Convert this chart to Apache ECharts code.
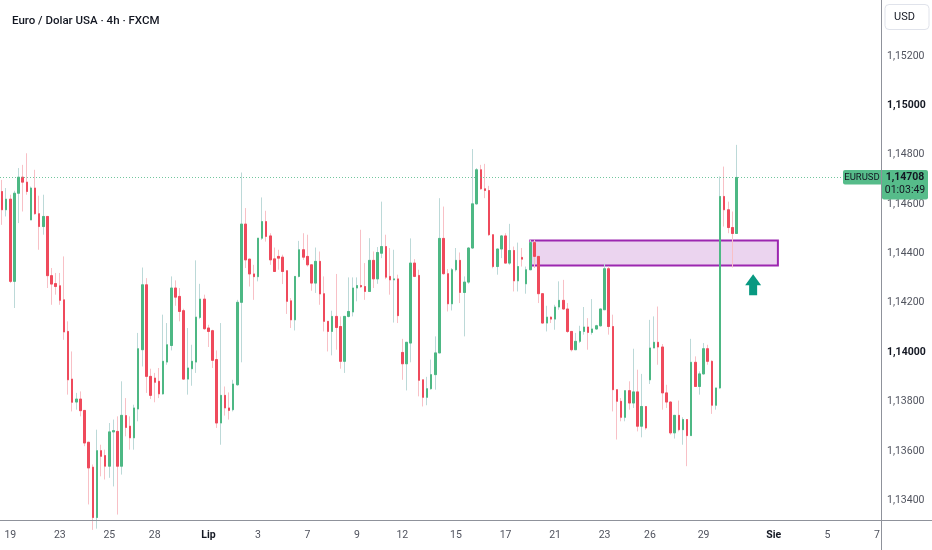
<!DOCTYPE html>
<html>
<head>
<meta charset="utf-8">
<script src="https://cdn.jsdelivr.net/npm/echarts@6/dist/echarts.min.js"></script>
<style>
html,body{margin:0;padding:0;background:#fff;}
#c{width:932px;height:550px;}
</style>
</head>
<body>
<div id="c"></div>
<script>
// ---- data (EUR/USD 4h) ----
const opens = [
1.14651,1.14577,1.14620,1.14287,1.14644,1.14709,1.14689,1.14536,1.14665,1.14561,
1.14509,1.14550,1.14310,1.14278,1.14269,1.14212,1.14084,1.13891,1.13798,1.13810,
1.13764,1.13635,1.13534,1.13330,1.13601,1.13581,1.13538,1.13677,1.13679,1.13538,
1.13743,1.13700,1.13653,1.13770,1.14010,1.14273,1.13902,1.13895,1.13882,1.13831,
1.13960,1.14027,1.14260,1.14226,1.14168,1.13891,1.13933,1.13960,1.14141,1.14215,
1.14098,1.14087,1.13970,1.13713,1.13825,1.13774,1.13767,1.13868,1.14202,1.14519,
1.14377,1.14317,1.14306,1.14462,1.14529,1.14471,1.14378,1.14388,1.14385,1.14330,
1.14208,1.14131,1.14307,1.14415,1.14388,1.14354,1.14280,1.14368,1.14237,1.14125,
1.14084,1.14145,1.14104,1.13963,1.14145,1.14163,1.14260,1.14270,1.14266,1.14246,
1.14372,1.14297,1.14401,1.14428,1.14307,1.14293,1.14297,1.13999,1.13953,1.14037,
1.14361,1.14311,1.13888,1.13817,1.13852,1.13909,1.13997,1.14461,1.14318,1.14196,
1.14334,1.14372,1.14242,1.14284,1.14422,1.14601,1.14739,1.14662,1.14655,1.14476,
1.14347,1.14418,1.14471,1.14361,1.14412,1.14289,1.14384,1.14277,1.14334,1.14444,
1.14388,1.14237,1.14118,1.14142,1.14134,1.14183,1.14210,1.14175,1.14084,1.14010,
1.14044,1.14084,1.14102,1.14080,1.14094,1.14107,1.14172,1.14338,1.14104,1.13848,
1.13801,1.13736,1.13844,1.13794,1.13839,1.13700,1.13780,1.13888,1.14017,1.14040,
1.14021,1.13835,1.13798,1.13673,1.13744,1.13686,1.13727,1.13662,1.13959,1.13861,
1.13912,1.14014,1.13963,1.13785,1.13855,1.14631,1.14577,1.14505,1.14481
];
const closes = [
1.14577,1.14620,1.14287,1.14644,1.14709,1.14689,1.14651,1.14665,1.14561,1.14509,
1.14550,1.14310,1.14276,1.14266,1.14210,1.14082,1.13888,1.13797,1.13810,1.13763,
1.13632,1.13531,1.13330,1.13601,1.13578,1.13538,1.13677,1.13682,1.13538,1.13744,
1.13695,1.13653,1.13774,1.14014,1.14273,1.13902,1.13825,1.13878,1.13831,1.13963,
1.14030,1.14260,1.14223,1.14165,1.13891,1.13936,1.13963,1.14142,1.14215,1.14095,
1.14084,1.13967,1.13713,1.13825,1.13774,1.13764,1.13871,1.14202,1.14519,1.14374,
1.14317,1.14306,1.14462,1.14529,1.14469,1.14374,1.14327,1.14381,1.14327,1.14206,
1.14131,1.14307,1.14415,1.14385,1.14354,1.14280,1.14368,1.14236,1.14125,1.14084,
1.14145,1.14100,1.13963,1.14145,1.14165,1.14260,1.14270,1.14265,1.14246,1.14372,
1.14297,1.14404,1.14428,1.14304,1.14293,1.14297,1.14148,1.13953,1.14040,1.14361,
1.14307,1.13886,1.13817,1.13852,1.13909,1.13997,1.14461,1.14318,1.14196,1.14334,
1.14372,1.14242,1.14284,1.14422,1.14601,1.14739,1.14662,1.14655,1.14476,1.14347,
1.14418,1.14471,1.14361,1.14412,1.14289,1.14347,1.14377,1.14334,1.14444,1.14388,
1.14237,1.14118,1.14142,1.14134,1.14183,1.14210,1.14175,1.14084,1.14010,1.14044,
1.14084,1.14102,1.14080,1.14094,1.14107,1.14175,1.14338,1.14104,1.13848,1.13801,
1.13736,1.13844,1.13794,1.13839,1.13700,1.13780,1.13693,1.14017,1.14040,1.14021,
1.13835,1.13798,1.13673,1.13744,1.13686,1.13727,1.13662,1.13959,1.13861,1.13912,
1.14014,1.13963,1.13785,1.13855,1.14631,1.14577,1.14505,1.14481,1.14708
];
const highs = [
1.14698,1.14665,1.14638,1.14654,1.14746,1.14759,1.14806,1.14671,1.14739,1.14634,
1.14638,1.14550,1.14341,1.14321,1.14321,1.14388,1.14125,1.14003,1.13835,1.13841,
1.13764,1.13635,1.13545,1.13686,1.13625,1.13605,1.13713,1.13727,1.13740,1.13882,
1.13814,1.13740,1.13787,1.14078,1.14343,1.14300,1.13933,1.13916,1.13936,1.14152,
1.14118,1.14307,1.14291,1.14260,1.14176,1.14098,1.14030,1.14372,1.14277,1.14233,
1.14111,1.14091,1.14007,1.14118,1.13861,1.13837,1.13888,1.14212,1.14728,1.14584,
1.14377,1.14354,1.14462,1.14627,1.14573,1.14482,1.14424,1.14415,1.14395,1.14330,
1.14219,1.14307,1.14451,1.14482,1.14476,1.14354,1.14424,1.14408,1.14307,1.14125,
1.14168,1.14317,1.14145,1.14145,1.14303,1.14303,1.14303,1.14496,1.14361,1.14462,
1.14408,1.14426,1.14610,1.14476,1.14422,1.14415,1.14314,1.14054,1.14040,1.14461,
1.14377,1.14334,1.13888,1.13900,1.13970,1.14064,1.14624,1.14590,1.14337,1.14341,
1.14422,1.14404,1.14307,1.14426,1.14823,1.14746,1.14759,1.14763,1.14674,1.14476,
1.14418,1.14475,1.14482,1.14520,1.14428,1.14444,1.14422,1.14347,1.14455,1.14455,
1.14388,1.14237,1.14188,1.14145,1.14192,1.14287,1.14293,1.14199,1.14084,1.14078,
1.14107,1.14183,1.14138,1.14215,1.14111,1.14175,1.14358,1.14347,1.14152,1.13848,
1.13814,1.13844,1.13882,1.14014,1.13929,1.13912,1.13780,1.14131,1.14145,1.14185,
1.14033,1.13868,1.13800,1.13744,1.13804,1.13736,1.13727,1.14054,1.13983,1.13922,
1.14037,1.14030,1.13967,1.13855,1.14712,1.14752,1.14610,1.14570,1.14840
];
const lows = [
1.14516,1.14550,1.14280,1.14179,1.14523,1.14570,1.14638,1.14536,1.14557,1.14415,
1.14476,1.14260,1.14192,1.14233,1.14192,1.14050,1.13828,1.13760,1.13767,1.13740,
1.13619,1.13383,1.13280,1.13285,1.13497,1.13484,1.13491,1.13456,1.13342,1.13504,
1.13659,1.13605,1.13605,1.13720,1.13942,1.13835,1.13810,1.13797,1.13814,1.13828,
1.13949,1.14007,1.14188,1.14125,1.13888,1.13828,1.13864,1.13916,1.14134,1.14091,
1.14021,1.13936,1.13693,1.13625,1.13743,1.13727,1.13760,1.13864,1.13959,1.14341,
1.14266,1.14212,1.14287,1.14455,1.14448,1.14354,1.14325,1.14334,1.14276,1.14155,
1.14098,1.14088,1.14303,1.14374,1.14347,1.14249,1.14240,1.14192,1.14084,1.14003,
1.13987,1.14010,1.13933,1.13916,1.14141,1.14145,1.14206,1.14260,1.14212,1.14244,
1.14260,1.14277,1.14381,1.14296,1.14233,1.14120,1.14118,1.13888,1.13845,1.13959,
1.14304,1.13821,1.13780,1.13785,1.13848,1.13848,1.13997,1.14314,1.14165,1.14169,
1.14327,1.14199,1.14064,1.14277,1.14419,1.14598,1.14658,1.14624,1.14471,1.14340,
1.14314,1.14381,1.14361,1.14354,1.14246,1.14246,1.14347,1.14237,1.14334,1.14341,
1.14199,1.14118,1.14084,1.14118,1.14091,1.14172,1.14172,1.14078,1.14003,1.14010,
1.14037,1.14071,1.14010,1.14071,1.14091,1.14104,1.14172,1.14071,1.13760,1.13646,
1.13720,1.13720,1.13767,1.13774,1.13679,1.13655,1.13686,1.13871,1.14017,1.13949,
1.13767,1.13774,1.13666,1.13650,1.13679,1.13625,1.13538,1.13662,1.13861,1.13828,
1.13909,1.13949,1.13750,1.13767,1.13852,1.14509,1.14482,1.14343,1.14481
];
// time axis: slot count and date labels at slot indices
const slotCount = 213;
const tickLabels = ['19','23','25','28','Lip','3','7','9','12','15','17','21','23','26','29','Sie','5','7'];
const tickSlots  = [2,14,26,37,50,62,74,86,97,110,122,134,146,157,170,187,200,212];
const monthLabels = ['Lip','Sie'];
// price axis
const priceMin = 1.1332, priceMax = 1.15427, priceStep = 0.002, priceLabelMax = 1.1525;
const boldPrices = [1.14, 1.15];
// drawings
const zoneTop = 1.14453, zoneBottom = 1.14351, zoneStart = 128, zoneEnd = 188;
const arrowSlot = 182, arrowPrice = 1.14273;
const symbolName = 'EURUSD', countdown = '01:03:49', currency = 'USD';
const titleText = 'Euro / Dolar USA · 4h · FXCM';

// ---- build ----
const UP = '#4db884', DOWN = '#ef4a5c';
const UP_WICK = '#bcd9d8', DOWN_WICK = '#f8c0c6';
const FONT = 'Roboto, "Open Sans", sans-serif';
const categories = Array.from({length: slotCount}, (_, i) => String(i));
const tickMap = {};
tickSlots.forEach((s, i) => { tickMap[s] = tickLabels[i]; });

const fullData = opens.map((o, i) => [o, closes[i], lows[i], highs[i]]);
const bodyData = opens.map((o, i) => [o, closes[i], Math.min(o, closes[i]), Math.max(o, closes[i])]);
const last = closes.length - 1;
const lastClose = closes[last];
const fmtPrice = v => v.toFixed(5).replace('.', ',');

const chart = echarts.init(document.getElementById('c'), null, {renderer: 'canvas'});
chart.setOption({
  animation: false,
  backgroundColor: '#ffffff',
  title: {
    text: titleText, left: 7, top: 10,
    textStyle: {fontFamily: FONT, fontSize: 11.5, fontWeight: 500, color: '#131722'}
  },
  grid: {left: -1, top: 0, right: 53, bottom: 30, containLabel: false},
  xAxis: {
    type: 'category', data: categories, boundaryGap: true,
    axisLine: {show: false}, axisTick: {show: false}, splitLine: {show: false},
    axisLabel: {
      interval: i => tickMap[i] !== undefined,
      margin: 10,
      formatter: (v, i) => {
        const t = tickMap[i];
        if (t === undefined) return '';
        return monthLabels.includes(t) ? '{b|' + t + '}' : t;
      },
      color: '#50535e', fontFamily: FONT, fontSize: 10.5,
      rich: {b: {fontWeight: 'bold', color: '#131722', fontFamily: FONT, fontSize: 10.5}}
    }
  },
  yAxis: {
    type: 'value', position: 'right', scale: true,
    min: priceMin, max: priceMax, interval: 0.0004,
    axisLine: {show: false}, axisTick: {show: false}, splitLine: {show: false},
    axisLabel: {
      margin: 8, showMinLabel: true, showMaxLabel: false,
      color: '#50535e', fontFamily: FONT, fontSize: 10.5,
      formatter: v => {
        const k = Math.round(v / priceStep);
        if (Math.abs(k * priceStep - v) > 1e-7 || v > priceLabelMax) return '';
        const val = k * priceStep;
        const s = fmtPrice(val);
        return boldPrices.some(b => Math.abs(b - val) < 1e-7) ? '{b|' + s + '}' : s;
      },
      rich: {b: {fontWeight: 'bold', color: '#131722', fontFamily: FONT, fontSize: 10.5}}
    }
  },
  series: [
    {
      name: 'wicks', type: 'candlestick', data: fullData, barWidth: 2,
      itemStyle: {color: UP_WICK, color0: DOWN_WICK, borderColor: UP_WICK, borderColor0: DOWN_WICK, borderWidth: 1},
      markPoint: {
        symbol: 'path://M8,0 L16,11 L12,11 L12,21 L4,21 L4,11 L0,11 Z',
        symbolSize: [16, 21], symbolKeepAspect: false,
        itemStyle: {color: '#089981'}, label: {show: false},
        data: [{coord: [arrowSlot, arrowPrice]}]
      },
      z: 2
    },
    {
      name: 'bodies', type: 'candlestick', data: bodyData, barWidth: 2,
      itemStyle: {color: UP, color0: DOWN, borderColor: UP, borderColor0: DOWN, borderWidth: 1},
      markArea: {
        silent: true,
        itemStyle: {color: 'rgba(156,39,176,0.2)', borderColor: '#9c27b0', borderWidth: 2},
        data: [[{xAxis: zoneStart, yAxis: zoneTop}, {xAxis: zoneEnd, yAxis: zoneBottom}]]
      },
      z: 3
    }
  ]
});

// overlay: separators, price line and tag, currency box (y from the axis scale)
const py = Math.round(chart.convertToPixel({yAxisIndex: 0}, lastClose)) + 0.5;
const W = 932, H = 550, axisX = 881, axisY = 520;
chart.setOption({
  graphic: [
    {type: 'line', shape: {x1: 0, y1: py, x2: 843, y2: py}, style: {stroke: '#4db884', lineWidth: 1, lineDash: [1, 2], opacity: 0.8}, z: 99},
    {type: 'line', shape: {x1: 0, y1: axisY + 0.5, x2: W, y2: axisY + 0.5}, style: {stroke: '#8f929b', lineWidth: 1}, z: 100},
    {type: 'line', shape: {x1: axisX + 0.5, y1: 0, x2: axisX + 0.5, y2: H}, style: {stroke: '#8f929b', lineWidth: 1}, z: 100},
    {type: 'rect', shape: {x: 843, y: py - 7.5, width: 38, height: 14.5, r: [2, 0, 0, 2]}, style: {fill: '#56bc8a'}, z: 101},
    {type: 'text', style: {x: 862, y: py, text: symbolName, fill: '#131722', font: '9.5px ' + FONT, align: 'center', verticalAlign: 'middle'}, z: 102},
    {type: 'rect', shape: {x: 882, y: py - 7.5, width: 46, height: 29.5, r: [0, 2, 2, 2]}, style: {fill: '#56bc8a'}, z: 101},
    {type: 'text', style: {x: 905, y: py, text: fmtPrice(lastClose), fill: '#131722', font: 'bold 10.5px ' + FONT, align: 'center', verticalAlign: 'middle'}, z: 102},
    {type: 'text', style: {x: 905, y: py + 13, text: countdown, fill: '#131722', font: '10.5px ' + FONT, align: 'center', verticalAlign: 'middle'}, z: 102},
    {type: 'rect', shape: {x: 885, y: 4.5, width: 44, height: 25, r: 4}, style: {fill: '#ffffff', stroke: '#e0e3eb', lineWidth: 1}, z: 101},
    {type: 'text', style: {x: 894, y: 17, text: currency, fill: '#131722', font: '11px ' + FONT, align: 'left', verticalAlign: 'middle'}, z: 102}
  ]
});
</script>
</body>
</html>
